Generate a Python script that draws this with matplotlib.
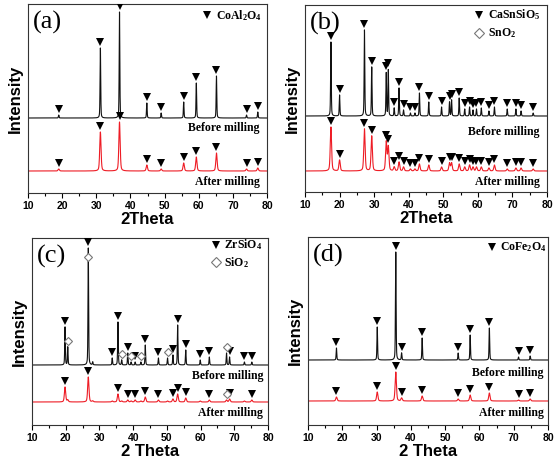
import numpy as np
import matplotlib
matplotlib.use('Agg')
import matplotlib.pyplot as plt
from matplotlib.ticker import MultipleLocator

plt.rcParams['font.family'] = 'Liberation Sans'
plt.rcParams['mathtext.fontset'] = 'custom'
plt.rcParams['mathtext.rm'] = 'Liberation Serif:bold'
plt.rcParams['mathtext.it'] = 'Liberation Serif:bold'
plt.rcParams['mathtext.bf'] = 'Liberation Serif:bold'

# ---- (a) CoAl2O4 : peak positions (2theta) and heights (a.u.)
a_pos = [19.0, 31.2, 36.8, 44.8, 49.0, 55.6, 59.3, 65.2, 74.0, 77.3]
a_before = [3, 70, 106, 15, 5, 16, 35, 42, 3, 6]
a_after = [2, 39, 49, 6, 2, 8, 14, 18, 2, 3]
a_tri = a_pos
a_offsets = (75, 22)

# ---- (b) CaSnSiO5 / SnO2
b_pos = [17.5, 20.0, 27.2, 29.3, 33.5, 34.1, 35.8, 37.2, 38.5, 40.5, 41.8, 43.1, 45.8, 49.5,
         51.8, 52.4, 54.6, 56.2, 57.6, 58.6, 59.6, 61.0, 63.2, 64.8, 68.5, 71.0, 72.5, 76.0]
b_before = [74, 21, 86, 49, 43, 46, 8, 28, 6, 3, 3, 23, 14, 9,
            14, 16, 18, 7, 9, 6, 7, 8, 5, 9, 7, 7, 5, 3]
b_after = [44, 11, 42, 35, 29, 24, 4, 9, 4, 2, 2, 7, 6, 4,
           8, 8, 7, 4, 6, 4, 4, 4, 3, 6, 2, 3, 3, 2]
b_tri = b_pos
b_offsets = (76, 21)

# ---- (c) ZrSiO4 / SiO2
c_pos = [19.8, 20.6, 26.7, 28.0, 33.8, 35.5, 36.6, 38.4, 39.4, 40.6, 42.3, 43.6, 47.5, 50.2,
         51.8, 53.2, 55.6, 59.9, 62.6, 67.7, 68.6, 73.0, 75.2]
c_before = [38, 18, 117, 3, 7, 43, 5, 12, 3, 3, 3, 20, 7, 7,
            10, 40, 15, 5, 8, 12, 8, 3, 3]
c_after = [15, 2, 25, 1, 1, 8, 1, 2, 1, 2, 1, 5, 2, 1,
           3, 8, 4, 1, 2, 2, 3, 1, 2]
c_tri_before = [19.8, 26.7, 33.8, 35.5, 38.4, 40.6, 43.6, 47.5, 51.8, 53.2, 55.6, 59.9, 62.6,
                68.6, 73.0, 75.2]
c_dia_before = [20.6, 26.7, 36.6, 39.4, 42.3, 50.2, 67.7]
c_tri_after = [19.8, 26.7, 35.5, 38.4, 40.6, 43.6, 47.5, 51.8, 53.2, 55.6, 62.6, 68.6, 75.2]
c_dia_after = [67.7]
c_offsets = (60, 23)

# ---- (d) CoFe2O4
d_pos = [18.3, 30.2, 35.6, 37.3, 43.3, 53.8, 57.3, 62.9, 71.4, 74.8]
d_before = [12, 33, 108, 7, 22, 7, 25, 32, 3, 4]
d_after = [4, 9, 29, 3, 5, 2, 6, 8, 1, 2]
d_tri = d_pos
d_offsets = (65, 24)

tt = np.arange(10, 80.001, 0.02)


def pattern(pos, heights, fwhm):
    y = np.zeros_like(tt)
    for p, h in zip(pos, heights):
        lor = 1.0 / (1.0 + ((tt - p) / (fwhm / 2)) ** 2)
        gau = np.exp(-4 * np.log(2) * ((tt - p) / fwhm) ** 2)
        y += h * (0.4 * lor + 0.6 * gau)
    return y


def marks(ax, curve, xs, marker, pad, skip=()):
    for x in xs:
        m = np.abs(tt - x) < 0.3
        y = curve[m].max() + pad
        if any(abs(x - s) < 0.3 for s in skip):
            # shares a peak with a triangle: sit just below it, on the line
            y = curve[m].max() - 9
        if marker == 'v':
            ax.plot(x, y, marker='v', color='black', ms=5.5, mew=0, zorder=5)
        else:
            ax.plot(x, y, marker='D', mfc='white', mec='#777777', ms=4.5, mew=0.8, zorder=6)


fig = plt.figure(figsize=(5.55, 4.62), dpi=100)
W, H = 555, 462

panels = [
    dict(box=(28, 4, 267, 193), pos=a_pos, bef=a_before, aft=a_after, off=a_offsets,
         tri_b=a_tri, dia_b=[], tri_a=a_tri, dia_a=[], tag='(a)', xl='2Theta',
         leg=[('v', r'CoAl$_2$O$_4$')], lx=0.75, ly=0.94, bm=(0.97, 0.344), am=(0.97, 0.058)),
    dict(box=(305, 5, 547, 192), pos=b_pos, bef=b_before, aft=b_after, off=b_offsets,
         tri_b=b_tri, dia_b=[], tri_a=b_tri, dia_a=[], tag='(b)', xl='2Theta',
         leg=[('v', r'CaSnSiO$_5$'), ('D', r'SnO$_2$')], lx=0.72, ly=0.947,
         bm=(0.97, 0.32), am=(0.97, 0.053)),
    dict(box=(32, 238, 268, 425), pos=c_pos, bef=c_before, aft=c_after, off=c_offsets,
         tri_b=c_tri_before, dia_b=c_dia_before, tri_a=c_tri_after, dia_a=c_dia_after,
         tag='(c)', xl='2 Theta', leg=[('v', r'ZrSiO$_4$'), ('D', r'SiO$_2$')], lx=0.78, ly=0.965,
         bm=(0.98, 0.26), am=(0.98, 0.064)),
    dict(box=(308, 237, 548, 425), pos=d_pos, bef=d_before, aft=d_after, off=d_offsets,
         tri_b=d_tri, dia_b=[], tri_a=d_tri, dia_a=[], tag='(d)', xl='2 Theta',
         leg=[('v', r'CoFe$_2$O$_4$')], lx=0.767, ly=0.947, bm=(0.983, 0.277), am=(0.983, 0.064)),
]

for p in panels:
    x0, y0, x1, y1 = p['box']
    ax = fig.add_axes([x0 / W, 1 - y1 / H, (x1 - x0) / W, (y1 - y0) / H])
    hpx = y1 - y0
    before = pattern(p['pos'], p['bef'], 0.22) + p['off'][0]
    after = pattern(p['pos'], p['aft'], 0.45) + p['off'][1]
    ax.plot(tt, before, color='#111111', lw=0.8)
    ax.plot(tt, after, color='#ee1c25', lw=0.8)
    marks(ax, before, p['tri_b'], 'v', 6)
    marks(ax, before, p['dia_b'], 'D', 6, skip=p['tri_b'])
    marks(ax, after, p['tri_a'], 'v', 6)
    marks(ax, after, p['dia_a'], 'D', 6)
    ax.set_xlim(10, 80)
    ax.set_ylim(0, hpx)
    ax.set_yticks([])
    ax.xaxis.set_major_locator(MultipleLocator(10))
    ax.xaxis.set_minor_locator(MultipleLocator(5))
    ax.tick_params(axis='x', which='major', direction='out', length=3.5, width=0.8, labelsize=7.5, pad=2)
    ax.tick_params(axis='x', which='minor', direction='out', length=2, width=0.8)
    for lab in ax.get_xticklabels():
        lab.set_fontweight('bold')
    for s in ax.spines.values():
        s.set_linewidth(0.8)
        s.set_color('#333333')
    ax.set_xlabel(p['xl'], fontsize=12, labelpad=1, weight='bold')
    ax.set_ylabel('Intensity', fontsize=12, labelpad=4, weight='bold')
    ax.text(0.02, 0.9, p['tag'], transform=ax.transAxes, fontsize=19,
            family='Liberation Serif', va='center', ha='left')
    for i, (mk, lab) in enumerate(p['leg']):
        yy = p['ly'] - i * 0.095
        if mk == 'v':
            ax.plot(p['lx'], yy, marker='v', color='black', ms=6, mew=0, transform=ax.transAxes)
        else:
            ax.plot(p['lx'], yy, marker='D', mfc='white', mec='#777777', ms=5, mew=0.8,
                    transform=ax.transAxes)
        ax.text(p['lx'] + 0.035, yy, lab, transform=ax.transAxes, fontsize=8.5,
                family='Liberation Serif', weight='bold', va='center', ha='left')
    ax.text(p['bm'][0], p['bm'][1], 'Before milling', transform=ax.transAxes, fontsize=8.5,
            family='Liberation Serif', weight='bold', va='center', ha='right')
    ax.text(p['am'][0], p['am'][1], 'After milling', transform=ax.transAxes, fontsize=8.5,
            family='Liberation Serif', weight='bold', va='center', ha='right')

fig.savefig('out.png', dpi=100)
